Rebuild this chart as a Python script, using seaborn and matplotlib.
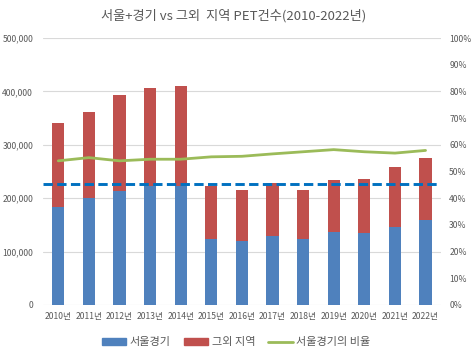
import numpy as np
import pandas as pd
import matplotlib
matplotlib.use("Agg")
import matplotlib.pyplot as plt
import seaborn as sns
from matplotlib.ticker import FuncFormatter, PercentFormatter
from matplotlib.patches import Patch
from matplotlib.lines import Line2D

years = ["2010년", "2011년", "2012년", "2013년", "2014년", "2015년", "2016년",
         "2017년", "2018년", "2019년", "2020년", "2021년", "2022년"]
seoul_gyeonggi = [183000, 200000, 213000, 222000, 222000, 123000, 120000,
                  130000, 123000, 136000, 134000, 146000, 159000]
total = [340000, 361000, 394000, 407000, 410000, 222000, 216000,
         228000, 216000, 234000, 236000, 258000, 275000]
ratio = [0.54, 0.552, 0.54, 0.546, 0.546, 0.555, 0.557,
         0.566, 0.574, 0.582, 0.574, 0.569, 0.579]
avg_line = 227000

sns.set_theme(style="white")
plt.rcParams['font.family'] = ['Noto Sans CJK KR', 'DejaVu Sans']

df = pd.DataFrame({"year": years, "sg": seoul_gyeonggi, "total": total, "ratio": ratio})

fig = plt.figure(figsize=(4.72, 3.5), dpi=100)
ax = fig.add_axes([0.091, 0.129, 0.843, 0.762])

blue = "#4F81BD"
red = "#C0504D"
green = "#9BBB59"
gray = "#595959"

sns.barplot(data=df, x="year", y="total", color=red, width=0.4, ax=ax,
            saturation=1, linewidth=0)
sns.barplot(data=df, x="year", y="sg", color=blue, width=0.4, ax=ax,
            saturation=1, linewidth=0)

ax.set_ylim(0, 500000)
ax.set_xlim(-0.5, len(years) - 0.5)
ax.set_yticks(np.arange(0, 500001, 100000))
ax.yaxis.set_major_formatter(FuncFormatter(lambda v, p: f"{int(v):,}"))
ax.grid(axis="y", color="#D9D9D9", linewidth=0.8)
ax.set_axisbelow(True)
ax.set_xlabel("")
ax.set_ylabel("")
for s in ax.spines.values():
    s.set_visible(False)
ax.tick_params(axis="both", length=0, colors=gray, labelsize=6.2)
ax.tick_params(axis="y", pad=7)
ax.tick_params(axis="x", pad=5)

ax2 = ax.twinx()
sns.lineplot(x=np.arange(len(years)), y=df["ratio"], color=green, linewidth=2, ax=ax2)
ax2.set_ylim(0, 1.0)
ax2.set_yticks(np.arange(0, 1.01, 0.1))
ax2.yaxis.set_major_formatter(PercentFormatter(1.0, decimals=0))
ax2.set_ylabel("")
for s in ax2.spines.values():
    s.set_visible(False)
ax2.tick_params(axis="y", length=0, colors=gray, labelsize=6.2, pad=6)
ax2.grid(False)

ax2.axhline(avg_line / 500000, color="#0070C0", linestyle=(0, (3.2, 1.5)), linewidth=2.1)

fig.suptitle("서울+경기 vs 그외  지역 PET건수(2010-2022년)", x=0.496, y=0.975,
             fontsize=9.5, color=gray)

handles = [Patch(color=blue, label="서울경기"),
           Patch(color=red, label="그외 지역"),
           Line2D([0], [0], color=green, linewidth=2, label="서울경기의 비율")]
fig.legend(handles=handles, loc="center", bbox_to_anchor=(0.5, 0.022), ncol=3,
           frameon=False, fontsize=8, labelcolor=gray, handlelength=2.2,
           handleheight=0.5, columnspacing=1.2, handletextpad=0.3)

fig.savefig("out.png", dpi=100)
